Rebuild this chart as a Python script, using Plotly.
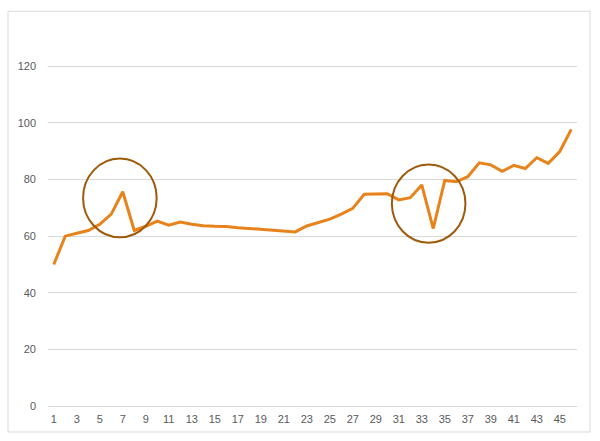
import plotly.graph_objects as go

categories = list(range(1, 47))
values = [50, 60, 61, 62, 64.2, 67.8, 75.7, 62, 63.5, 65.3,
          63.9, 65.0, 64.2, 63.7, 63.5, 63.4, 63.0, 62.7, 62.6, 62.2,
          61.9, 61.5, 63.6, 64.8, 66.0, 67.8, 69.8, 74.8, 75.0, 75.0,
          72.8, 73.6, 78.1, 62.7, 79.7, 79.2, 81.0, 85.9, 85.2, 82.9,
          85.0, 83.9, 87.7, 85.7, 89.9, 97.7]
x_tick_labels = [str(i) for i in range(1, 47, 2)]
y_ticks = [0, 20, 40, 60, 80, 100, 120]

fig = go.Figure()
fig.add_trace(go.Scatter(
    x=categories, y=values, mode="lines",
    line=dict(color="#E8821A", width=3),
    hoverinfo="skip", showlegend=False,
))

circle_color = "#9E5A0A"
fig.add_shape(type="circle", xref="x", yref="y",
              x0=3.55, x1=9.95, y0=59.6, y1=87.4,
              line=dict(color=circle_color, width=2))
fig.add_shape(type="circle", xref="x", yref="y",
              x0=30.4, x1=36.8, y0=57.7, y1=85.3,
              line=dict(color=circle_color, width=2))
# outer chart border
fig.add_shape(type="rect", xref="paper", yref="paper",
              x0=-0.0756, x1=1.0246, y0=-0.0706, y1=1.0725,
              line=dict(color="#D9D9D9", width=1))

fig.update_layout(
    width=600, height=441,
    margin=dict(l=48, r=23, t=38, b=35),
    paper_bgcolor="white", plot_bgcolor="white",
    font=dict(family="Liberation Sans, Arial, sans-serif", size=11, color="#595959"),
    xaxis=dict(
        range=[0.5, 46.5], tickmode="array",
        tickvals=list(range(1, 47, 2)), ticktext=x_tick_labels,
        showgrid=False, zeroline=False, showline=False,
        ticks="", ticklabelstandoff=5, automargin=False,
    ),
    yaxis=dict(
        range=[0, 130], tickmode="array", tickvals=y_ticks,
        ticktext=[str(v) for v in y_ticks],
        showgrid=True, gridcolor="#D9D9D9", gridwidth=1,
        zeroline=True, zerolinecolor="#D9D9D9", zerolinewidth=1,
        showline=False, ticks="", ticklabelstandoff=11, automargin=False,
    ),
)

fig.write_html("out.html", config={"displayModeBar": False},
               post_script="document.body.style.margin='0';document.body.style.overflow='hidden';")
